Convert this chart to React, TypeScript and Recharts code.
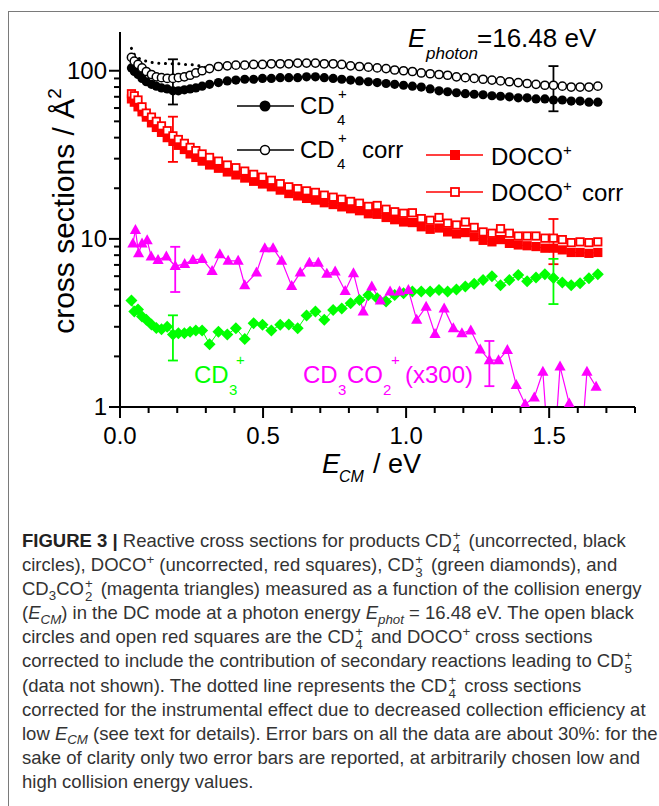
import { ComposedChart, Line, XAxis, YAxis, ErrorBar } from "recharts";

// ── data ─────────────────────────────────────────────────────────────────────
// collision energies (eV) shared by CD4+, DOCO+ and CD3+
const E_CM = [
  0.04, 0.05, 0.063, 0.077, 0.092, 0.11, 0.127, 0.145, 0.165, 0.185, 0.204, 0.225, 0.245, 0.265, 0.287,
  0.313, 0.344, 0.375, 0.405, 0.436, 0.467, 0.498, 0.529, 0.56, 0.59, 0.621, 0.652, 0.683, 0.714, 0.745,
  0.775, 0.806, 0.837, 0.868, 0.899, 0.93, 0.96, 0.991, 1.022, 1.053, 1.084, 1.115, 1.145, 1.176, 1.207,
  1.238, 1.269, 1.3, 1.33, 1.361, 1.392, 1.423, 1.454, 1.485, 1.515, 1.546, 1.577, 1.608, 1.639, 1.67,
];
const CD4 = [
  104, 99, 95, 90, 86, 83, 81, 79, 78, 76, 76, 77, 78, 79, 81,
  83, 85, 87, 88, 89, 89, 90, 90, 91, 91, 91, 92, 92, 91, 90,
  89, 88, 87, 86, 85, 84, 83, 82, 81, 80, 78, 76, 75, 74, 73,
  72.5, 72, 71, 70.5, 70, 69, 69, 68, 68, 67, 67, 66, 66, 65, 65,
];
const CD4_CORR = [
  120, 114, 109, 104, 99, 95, 92, 91, 90, 90, 91, 92, 94, 97, 100,
  103, 106, 107, 108, 108, 109, 109, 110, 110, 110, 111, 111, 111, 110, 110,
  109, 107, 106, 105, 104, 103, 101, 100, 99, 97, 96, 95, 94, 92, 91,
  90, 89, 88, 87, 86, 85, 84, 83, 82, 82, 81, 80, 80, 80, 81,
];
// dotted line: CD4+ corrected for collection efficiency (low energies only)
const CD4_DOTTED = [136, 125, 119, 116, 114, 112, 111, 111, 110, 110, 110, 109, 109, 108, 106, 103];
const DOCO = [
  68, 65, 61, 57, 53, 49, 46, 43, 40, 38, 36, 34, 32, 30.5, 29,
  27.5, 26.3, 25, 24, 23, 22, 21.2, 20.4, 19.5, 18.6, 18.0, 17.4, 17.0, 16.4, 16.0,
  15.5, 15.1, 14.7, 14.1, 14.0, 13.4, 13.0, 12.6, 12.5, 11.8, 11.4, 11.6, 11.0, 10.7, 10.9,
  10.3, 9.8, 9.6, 9.9, 9.4, 9.2, 9.1, 9.0, 8.8, 8.8, 8.6, 8.3, 8.3, 8.2, 8.3,
];
const DOCO_CORR = [
  73, 71, 67, 61, 56, 53, 50, 47, 44, 41, 39, 37, 35, 33.5, 32,
  30.5, 29, 27.5, 26.5, 25.3, 24.2, 23.3, 22.3, 21.3, 20.4, 19.9, 19.3, 18.9, 18.2, 17.7,
  17.2, 16.7, 16.3, 15.6, 15.8, 15.0, 14.5, 14.2, 14.3, 13.2, 12.9, 13.4, 12.4, 12.1, 12.6,
  11.7, 11.0, 10.8, 11.5, 10.8, 10.4, 10.4, 10.4, 10.1, 10.1, 9.9, 9.5, 9.6, 9.5, 9.6,
];
const CD3 = [
  4.3, 3.7, 3.8, 3.45, 3.3, 3.1, 2.95, 2.9, 3.0, 2.7, 2.75, 2.75, 2.8, 2.85, 2.85,
  2.36, 2.8, 2.7, 2.94, 2.54, 3.15, 3.08, 2.85, 3.08, 3.1, 2.94, 3.5, 3.7, 3.3, 3.78,
  3.86, 4.14, 4.33, 4.64, 4.43, 4.24, 4.64, 4.75, 4.86, 4.86, 4.86, 4.97, 4.86, 5.0, 5.2,
  5.4, 5.7, 6.0, 5.3, 5.7, 6.1, 5.6, 5.9, 6.15, 5.85, 5.5, 5.3, 5.45, 5.83, 6.15,
];
// CD3CO2+ (x300) has its own energy grid
const E_CD3CO2 = [
  0.045, 0.054, 0.065, 0.077, 0.095, 0.109, 0.133, 0.162, 0.193, 0.226, 0.255, 0.287, 0.322, 0.349,
  0.378, 0.413, 0.436, 0.477, 0.506, 0.535, 0.565, 0.6, 0.63, 0.662, 0.693, 0.723, 0.752, 0.787,
  0.816, 0.85, 0.88, 0.91, 0.944, 0.977, 1.008, 1.037, 1.07, 1.101, 1.133, 1.165, 1.195, 1.226,
  1.259, 1.291, 1.323, 1.354, 1.385, 1.416, 1.448, 1.478, 1.508, 1.538, 1.57, 1.6, 1.632, 1.664,
];
const CD3CO2 = [
  9.4, 11.3, 8.2, 9.4, 9.8, 7.85, 7.5, 7.85, 6.9, 7.1, 7.5, 7.6, 6.45, 8.1,
  7.4, 7.4, 5.3, 6.3, 8.8, 8.8, 7.4, 5.25, 6.3, 7.2, 7.2, 6.2, 6.4, 4.9,
  6.25, 3.7, 5.2, 4.3, 4.86, 4.86, 4.97, 3.3, 3.95, 2.72, 3.86, 2.94, 2.75, 2.85,
  2.2, 1.9, 1.9, 2.18, 1.35, 1.04, 1.14, 1.62, 0.3, 1.74, 1.05, 0.3, 1.62, 1.32,
];

const X_TICKS = [0, 0.1, 0.2, 0.3, 0.4, 0.5, 0.6, 0.7, 0.8, 0.9, 1, 1.1, 1.2, 1.3, 1.4, 1.5, 1.6, 1.7, 1.8];
const X_LABELS = [0, 0.5, 1, 1.5];
const Y_TICKS = [1, 2, 3, 4, 5, 6, 7, 8, 9, 10, 20, 30, 40, 50, 60, 70, 80, 90, 100];
const Y_LABELS = [1, 10, 100];

// error bars (~30 %) shown only at one low and one high energy
const ERR_FRAC = 0.3;
const ERR_MAIN = [9, 54];
const ERR_CD3CO2 = [8, 43];

const RED = "#ff0000";
const GREEN = "#00ff00";
const MAGENTA = "#ff00ff";
const FONT = '"Liberation Sans", Arial, sans-serif';

const errAt = (list: number[], i: number, v: number) => (list.includes(i) ? v * ERR_FRAC : undefined);

const mainRows = E_CM.map((e, i) => ({
  e,
  cd4: CD4[i],
  cd4c: CD4_CORR[i],
  dotted: i < CD4_DOTTED.length ? CD4_DOTTED[i] : null,
  doco: DOCO[i],
  dococ: DOCO_CORR[i],
  cd3: CD3[i],
  cd4cErr: errAt(ERR_MAIN, i, CD4_CORR[i]),
  dococErr: errAt(ERR_MAIN, i, DOCO_CORR[i]),
  cd3Err: errAt(ERR_MAIN, i, CD3[i]),
}));
const acetRows = E_CD3CO2.map((e, i) => ({ e, v: CD3CO2[i], err: errAt(ERR_CD3CO2, i, CD3CO2[i]) }));

// ── markers ──────────────────────────────────────────────────────────────────
const okPt = (p: any) => p && Number.isFinite(p.cx) && Number.isFinite(p.cy);

const circleDot = (filled: boolean) => (p: any) =>
  okPt(p) ? (
    <circle key={`c${p.index}`} cx={p.cx} cy={p.cy} r={filled ? 4.6 : 4.1}
      fill={filled ? "#000" : "#fff"} stroke="#000" strokeWidth={filled ? 0 : 1.5} />
  ) : <g key={`c${p.index}`} />;

const squareDot = (filled: boolean) => (p: any) =>
  okPt(p) ? (
    filled
      ? <rect key={`s${p.index}`} x={p.cx - 4.6} y={p.cy - 4.6} width={9.2} height={9.2} fill={RED} />
      : <rect key={`s${p.index}`} x={p.cx - 3.7} y={p.cy - 3.7} width={7.4} height={7.4} fill="#fff" stroke={RED} strokeWidth={1.8} />
  ) : <g key={`s${p.index}`} />;

const diamondDot = (p: any) =>
  okPt(p) ? (
    <path key={`d${p.index}`} d={`M${p.cx},${p.cy - 6}L${p.cx + 6},${p.cy}L${p.cx},${p.cy + 6}L${p.cx - 6},${p.cy}Z`} fill={GREEN} />
  ) : <g key={`d${p.index}`} />;

const triangleDot = (p: any) =>
  okPt(p) ? (
    <path key={`t${p.index}`} d={`M${p.cx},${p.cy - 6}L${p.cx + 5.6},${p.cy + 4}L${p.cx - 5.6},${p.cy + 4}Z`} fill={MAGENTA} />
  ) : <g key={`t${p.index}`} />;

// ── axis ticks (major + minor) ───────────────────────────────────────────────
function XTick(props: any) {
  const { x, y, payload } = props;
  const major = X_LABELS.includes(payload.value);
  return (
    <g>
      <line x1={x} x2={x} y1={y} y2={y + (major ? 11 : 6)} stroke="#000" strokeWidth={2} />
      {major && (
        <text x={x} y={y + 37} textAnchor="middle" fontSize={24} fontFamily={FONT} fill="#000">
          {payload.value.toFixed(1)}
        </text>
      )}
    </g>
  );
}

function YTick(props: any) {
  const { x, y, payload } = props;
  const major = Y_LABELS.includes(payload.value);
  return (
    <g>
      <line x1={x} x2={x - (major ? 11 : 6)} y1={y} y2={y} stroke="#000" strokeWidth={2} />
      {major && (
        <text x={x - 13} y={y + 8} textAnchor="end" fontSize={24} fontFamily={FONT} fill="#000">
          {payload.value}
        </text>
      )}
    </g>
  );
}

// ── text overlay: legend, annotations, axis titles ───────────────────────────
function Overlay() {
  return (
    <svg width={659} height={500} style={{ position: "absolute", left: 0, top: 0, pointerEvents: "none" }}
      fontFamily={FONT}>
      {/* legend */}
      <line x1={237} x2={294} y1={106} y2={106} stroke="#000" strokeWidth={1.5} />
      <circle cx={265} cy={106} r={5.5} fill="#000" />
      <text x={300} y={114} fontSize={24}>CD</text>
      <text x={337} y={125} fontSize={15}>4</text>
      <text x={338} y={99} fontSize={15}>+</text>

      <line x1={237} x2={294} y1={150} y2={150} stroke="#000" strokeWidth={1.5} />
      <circle cx={265} cy={150} r={4.5} fill="#fff" stroke="#000" strokeWidth={1.5} />
      <text x={300} y={158} fontSize={24}>CD</text>
      <text x={337} y={169} fontSize={15}>4</text>
      <text x={338} y={143} fontSize={15}>+</text>
      <text x={362} y={158} fontSize={24}>corr</text>

      <line x1={426} x2={483} y1={155} y2={155} stroke={RED} strokeWidth={1.5} />
      <rect x={450} y={150} width={10} height={10} fill={RED} />
      <text x={491} y={165} fontSize={24}>DOCO</text>
      <text x={563} y={155} fontSize={15}>+</text>

      <line x1={426} x2={483} y1={192} y2={192} stroke={RED} strokeWidth={1.5} />
      <rect x={451} y={188} width={8} height={8} fill="#fff" stroke={RED} strokeWidth={1.8} />
      <text x={491} y={201} fontSize={24}>DOCO</text>
      <text x={563} y={191} fontSize={15}>+</text>
      <text x={582} y={201} fontSize={24}>corr</text>

      {/* photon energy */}
      <text x={408} y={47} fontSize={26} fontStyle="italic">E</text>
      <text x={426} y={59} fontSize={17} fontStyle="italic">photon</text>
      <text x={477} y={47} fontSize={26}>=16.48 eV</text>

      {/* series labels */}
      <text x={194} y={383} fontSize={24} fill={GREEN}>CD</text>
      <text x={229} y={395} fontSize={15} fill={GREEN}>3</text>
      <text x={236} y={365} fontSize={15} fill={GREEN}>+</text>

      <text x={303} y={383} fontSize={24} fill={MAGENTA}>CD</text>
      <text x={338} y={395} fontSize={15} fill={MAGENTA}>3</text>
      <text x={347} y={383} fontSize={24} fill={MAGENTA}>CO</text>
      <text x={383} y={395} fontSize={15} fill={MAGENTA}>2</text>
      <text x={391} y={365} fontSize={15} fill={MAGENTA}>+</text>
      <text x={405} y={383} fontSize={24} fill={MAGENTA}>(x300)</text>

      {/* axis titles */}
      <text x={322} y={473} fontSize={27} fontStyle="italic">E</text>
      <text x={339} y={482} fontSize={16} fontStyle="italic">CM</text>
      <text x={373} y={473} fontSize={27}>/ eV</text>

      <text transform="translate(74,211) rotate(-90)" textAnchor="middle" fontSize={30}>
        cross sections / Å<tspan dy={-13} fontSize={19}>2</tspan>
      </text>
    </svg>
  );
}

// ── caption ──────────────────────────────────────────────────────────────────
// stacked sub/superscript that does not change the line box
function SS({ sub, sup }: { sub: string; sup: string }) {
  const small = { position: "absolute" as const, left: 0, fontSize: "0.72em", lineHeight: 1 };
  return (
    <span style={{ position: "relative", display: "inline-block", width: "0.52em", margin: "0 1px" }}>
      <span style={{ ...small, top: 0 }}>{sup}</span>
      <span style={{ ...small, top: 13 }}>{sub}</span>
      {"\u00a0"}
    </span>
  );
}
const Sup = ({ c }: { c: string }) => (
  <span style={{ fontSize: "0.72em", lineHeight: 1, position: "relative", top: "-0.55em" }}>{c}</span>
);
const Sub = ({ c, it }: { c: string; it?: boolean }) => (
  <span style={{ fontSize: "0.72em", lineHeight: 1, position: "relative", top: "0.35em", fontStyle: it ? "italic" : "normal" }}>{c}</span>
);

function Caption() {
  const line = { height: 24.1, whiteSpace: "nowrap" as const };
  return (
    <div style={{ position: "absolute", left: 22, top: 529, fontFamily: '"Liberation Sans Narrow", "Arial Narrow", "Liberation Sans", sans-serif',
      fontSize: 18.5, lineHeight: "24px", color: "#333" }}>
      <div style={line}><b style={{ color: "#222" }}>FIGURE 3 |</b> Reactive cross sections for products CD<SS sub="4" sup="+" /> (uncorrected, black</div>
      <div style={line}>circles), DOCO<Sup c="+" /> (uncorrected, red squares), CD<SS sub="3" sup="+" /> (green diamonds), and</div>
      <div style={line}>CD<Sub c="3" />CO<SS sub="2" sup="+" /> (magenta triangles) measured as a function of the collision energy</div>
      <div style={line}>(<i>E</i><Sub c="CM" it />) in the DC mode at a photon energy <i>E</i><Sub c="phot" it /> = 16.48 eV. The open black</div>
      <div style={line}>circles and open red squares are the CD<SS sub="4" sup="+" /> and DOCO<Sup c="+" /> cross sections</div>
      <div style={line}>corrected to include the contribution of secondary reactions leading to CD<SS sub="5" sup="+" /></div>
      <div style={line}>(data not shown). The dotted line represents the CD<SS sub="4" sup="+" /> cross sections</div>
      <div style={line}>corrected for the instrumental effect due to decreased collection efficiency at</div>
      <div style={line}>low <i>E</i><Sub c="CM" it /> (see text for details). Error bars on all the data are about 30%: for the</div>
      <div style={line}>sake of clarity only two error bars are reported, at arbitrarily chosen low and</div>
      <div style={line}>high collision energy values.</div>
    </div>
  );
}

export default function App() {
  return (
    <div style={{ position: "absolute", left: 0, top: 0, width: 659, height: 806, background: "#fff", overflow: "hidden" }}>
      {/* frame */}
      <div style={{ position: "absolute", left: 8, top: 11, width: 700, height: 820, borderTop: "1.5px solid #7a7a7a", borderLeft: "1.5px solid #7a7a7a" }} />

      <div style={{ position: "absolute", left: 0, top: 0 }}>
        <ComposedChart width={659} height={500} data={mainRows} margin={{ top: 32, right: 24, bottom: 0, left: 0 }}>
          <XAxis type="number" dataKey="e" domain={[0, 1.8]} ticks={X_TICKS} interval={0} allowDataOverflow
            tickSize={0} tickMargin={0} tickLine={false} tick={(p: any) => <XTick {...p} />}
            axisLine={{ stroke: "#000", strokeWidth: 2 }} height={93} />
          <YAxis type="number" scale="log" domain={[1, 170]} ticks={Y_TICKS} interval={0} allowDataOverflow
            tickSize={0} tickMargin={0} tickLine={false} tick={(p: any) => <YTick {...p} />}
            axisLine={{ stroke: "#000", strokeWidth: 2 }} width={120} />

          <Line dataKey="dotted" stroke="#000" strokeWidth={3} strokeDasharray="0.1 6.6" strokeLinecap="round"
            dot={false} activeDot={false} isAnimationActive={false} legendType="none" />
          <Line dataKey="cd4" stroke="#000" strokeWidth={1} dot={circleDot(true)} activeDot={false}
            isAnimationActive={false} legendType="none" />
          <Line dataKey="cd4c" stroke="#000" strokeWidth={1} dot={circleDot(false)} activeDot={false}
            isAnimationActive={false} legendType="none">
            <ErrorBar dataKey="cd4cErr" width={5} strokeWidth={1.8} stroke="#000" direction="y" />
          </Line>
          <Line dataKey="doco" stroke={RED} strokeWidth={1} dot={squareDot(true)} activeDot={false}
            isAnimationActive={false} legendType="none" />
          <Line dataKey="dococ" stroke={RED} strokeWidth={1} dot={squareDot(false)} activeDot={false}
            isAnimationActive={false} legendType="none">
            <ErrorBar dataKey="dococErr" width={5} strokeWidth={1.8} stroke={RED} direction="y" />
          </Line>
          <Line dataKey="cd3" stroke={GREEN} strokeWidth={1} dot={diamondDot} activeDot={false}
            isAnimationActive={false} legendType="none">
            <ErrorBar dataKey="cd3Err" width={5} strokeWidth={1.8} stroke={GREEN} direction="y" />
          </Line>
          <Line data={acetRows} dataKey="v" stroke={MAGENTA} strokeWidth={1.2} dot={triangleDot} activeDot={false}
            isAnimationActive={false} legendType="none">
            <ErrorBar dataKey="err" width={5} strokeWidth={1.8} stroke={MAGENTA} direction="y" />
          </Line>
        </ComposedChart>
      </div>

      <Overlay />
      <Caption />
    </div>
  );
}
